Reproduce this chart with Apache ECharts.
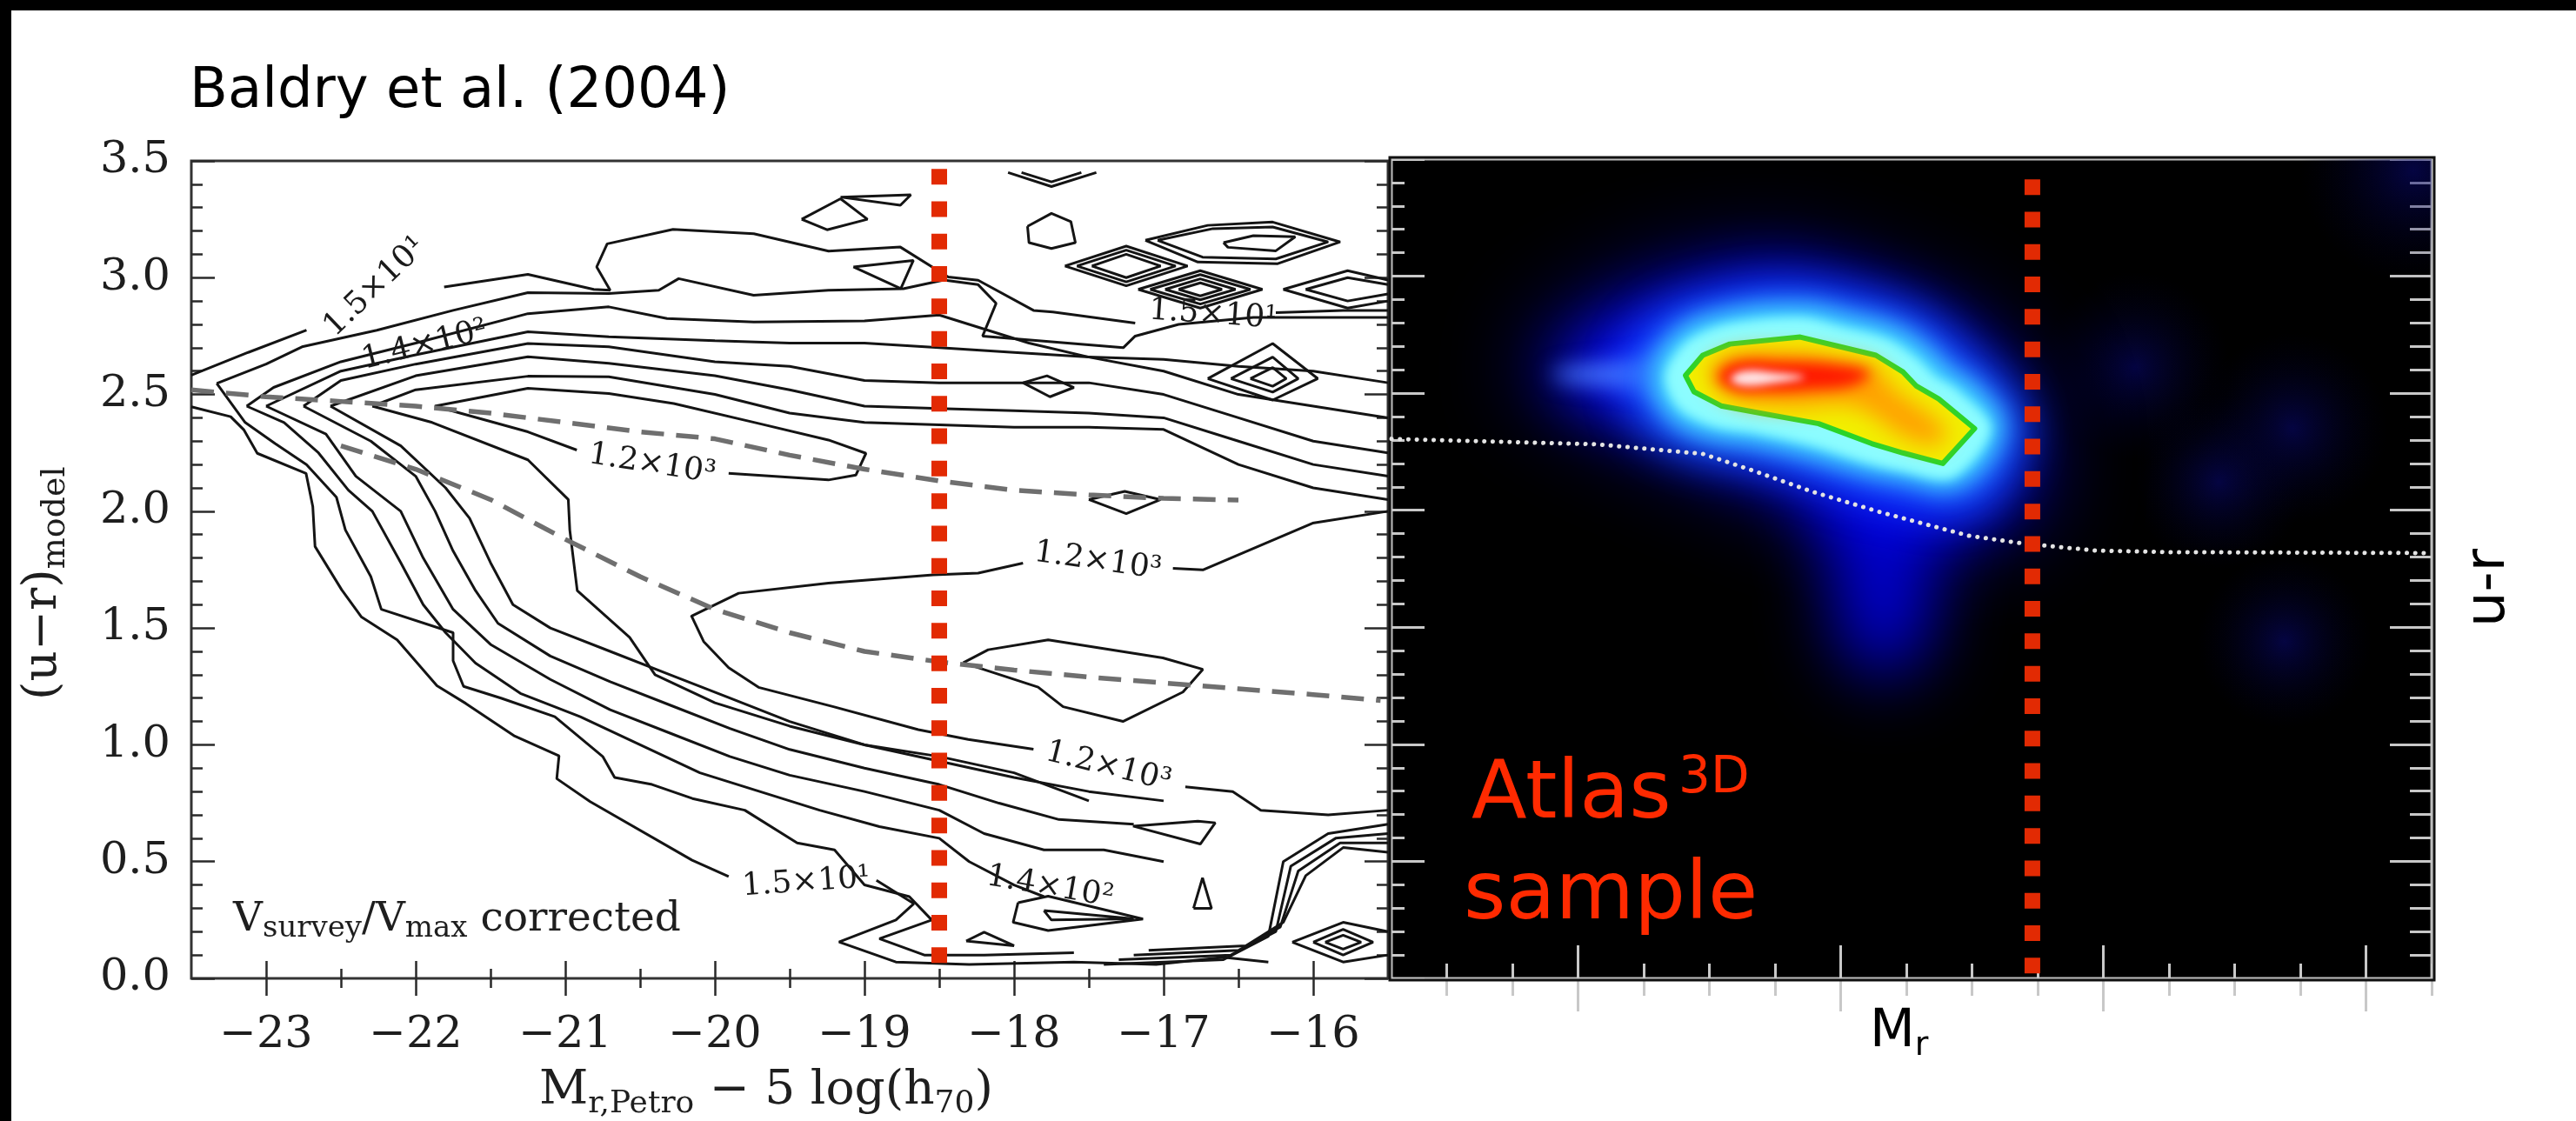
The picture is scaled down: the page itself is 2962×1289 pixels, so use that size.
<!DOCTYPE html>
<html><head><meta charset="utf-8">
<script src="https://cdn.jsdelivr.net/npm/echarts@6.0.0/dist/echarts.min.js"></script>
<style>html,body{margin:0;padding:0;background:#fff;overflow:hidden}#chart{width:2962px;height:1289px}</style>
</head><body><div id="chart"></div>
<script>
// ---------------- tick values ----------------
const leftXMajor = [-23,-22,-21,-20,-19,-18,-17,-16];
const leftXMinor = [-22.5,-21.5,-20.5,-19.5,-18.5,-17.5,-16.5];
const yMajor = [0,0.5,1,1.5,2,2.5,3,3.5];
const yMinor = [0.1,0.2,0.3,0.4,0.6,0.7,0.8,0.9,1.1,1.2,1.3,1.4,1.6,1.7,1.8,1.9,2.1,2.2,2.3,2.4,2.6,2.7,2.8,2.9,3.1,3.2,3.3,3.4];
const rightXMajor = [-24,-23,-22,-21];
const rightXMinor = [-24.5,-24.25,-23.75,-23.5,-23.25,-22.75,-22.5,-22.25,-21.75,-21.5,-21.25,-20.75];

// ---------------- left panel: contours (Mr, u-r) ----------------
const c0 = [
 [[-23.5,2.583],[-23.12,2.68],[-22.73,2.775]],
 [[-21.81,2.96],[-21.25,3.014],[-20.81,2.95],[-20.70,2.946],[-20.79,3.046],[-20.72,3.145],[-20.28,3.207],[-19.74,3.188],[-19.24,3.114],[-18.76,3.131],[-18.44,3.003],[-18.24,2.989],[-17.87,2.86],[-17.74,2.853],[-17.19,2.806]],
 [[-16.25,2.85],[-15.8,2.86],[-15.5,2.86]],
 [[-23.5,2.447],[-23.237,2.405],[-23.148,2.348],[-23.059,2.248],[-22.733,2.162],[-22.688,2.02],[-22.673,1.849],[-22.495,1.664],[-22.362,1.547],[-22.124,1.449],[-21.858,1.253],[-21.665,1.177],[-21.338,1.037],[-21.042,0.953],[-21.057,0.855],[-20.834,0.757],[-20.152,0.506],[-19.908,0.436]],
 [[-18.92,0.42],[-18.67,0.32],[-18.79,0.25],[-19.17,0.156],[-18.79,0.07],[-18.3,0.06],[-17.6,0.07],[-17.05,0.06],[-16.6,0.09],[-16.3,0.07]]
];
const c1 = [
 [[-23.33,2.547],[-23.0,2.63],[-22.76,2.704],[-22.26,2.775],[-21.75,2.86],[-21.25,2.936],[-20.709,2.932],[-20.375,2.946],[-20.242,2.996],[-19.741,2.925],[-19.241,2.946],[-18.74,2.953],[-18.47,2.99],[-18.24,2.97],[-18.12,2.89],[-18.21,2.75],[-17.27,2.70],[-17.19,2.75],[-16.9,2.8],[-16.4,2.83],[-15.5,2.83]],
 [[-23.33,2.547],[-23.14,2.38],[-22.94,2.29],[-22.73,2.2],[-22.53,2.06],[-22.47,1.92],[-22.3,1.72],[-22.23,1.58],[-21.75,1.48],[-21.75,1.36],[-21.68,1.25],[-21.43,1.2],[-21.07,1.12],[-20.75,0.95],[-20.67,0.86],[-20.42,0.83],[-20.15,0.77],[-19.8,0.72],[-19.45,0.58],[-19.2,0.55],[-19.0,0.40],[-18.7,0.35],[-18.55,0.25],[-18.9,0.17],[-18.6,0.1],[-18.2,0.1],[-17.6,0.11]]
];
const c2 = [
 [[-23.13,2.45],[-22.95,2.53],[-22.5,2.64],[-22.0,2.72],[-21.25,2.846],[-20.709,2.875],[-20.32,2.825],[-19.74,2.81],[-19.0,2.815],[-18.5,2.84],[-18.3,2.8],[-17.9,2.72],[-17.5,2.66],[-17.0,2.65],[-16.5,2.62],[-16.0,2.6],[-15.5,2.55]],
 [[-23.13,2.45],[-22.88,2.38],[-22.65,2.25],[-22.45,2.09],[-22.29,2.0],[-22.1,1.78],[-21.95,1.6],[-21.8,1.48],[-21.6,1.35],[-21.3,1.22],[-20.9,1.12],[-20.5,1.0],[-20.1,0.88],[-19.7,0.8],[-19.3,0.72],[-18.9,0.65],[-18.5,0.6],[-18.3,0.5],[-18.0,0.4],[-17.8,0.35]]
];
const c3 = [
 [[-23.0,2.45],[-22.5,2.6],[-22.0,2.67],[-21.25,2.768],[-20.709,2.747],[-20.0,2.73],[-19.5,2.72],[-19.0,2.72],[-18.5,2.7],[-18.0,2.68],[-17.5,2.66],[-17.0,2.6],[-16.5,2.5],[-16.0,2.45],[-15.5,2.4]],
 [[-23.0,2.45],[-22.6,2.33],[-22.4,2.15],[-22.1,2.0],[-21.95,1.8],[-21.75,1.58],[-21.5,1.43],[-21.1,1.28],[-20.7,1.15],[-20.3,1.05],[-19.9,0.95],[-19.5,0.87],[-19.0,0.8],[-18.5,0.72],[-18.2,0.62],[-17.8,0.55],[-17.4,0.55],[-17.0,0.5]]
];
const c4 = [
 [[-22.75,2.45],[-22.5,2.56],[-22.0,2.63],[-21.25,2.718],[-20.709,2.704],[-20.0,2.64],[-19.5,2.62],[-19.0,2.56],[-18.5,2.55],[-18.0,2.55],[-17.5,2.55],[-17.0,2.5],[-16.5,2.4],[-16.0,2.3],[-15.5,2.25]],
 [[-22.75,2.45],[-22.3,2.3],[-22.0,2.15],[-21.87,2.0],[-21.75,1.83],[-21.6,1.66],[-21.45,1.52],[-21.1,1.38],[-20.7,1.27],[-20.3,1.17],[-19.9,1.07],[-19.5,0.98],[-19.0,0.9],[-18.5,0.83],[-18.1,0.75],[-17.7,0.68],[-17.2,0.66]]
];
const c5 = [
 [[-22.57,2.45],[-22.0,2.58],[-21.25,2.661],[-20.709,2.633],[-20.0,2.58],[-19.5,2.52],[-19.0,2.45],[-18.5,2.44],[-18.0,2.43],[-17.5,2.42],[-17.0,2.4],[-16.5,2.3],[-16.0,2.2],[-15.5,2.15]],
 [[-22.57,2.45],[-22.1,2.28],[-21.8,2.1],[-21.64,1.97],[-21.5,1.78],[-21.35,1.6],[-21.1,1.5],[-20.7,1.4],[-20.3,1.3],[-19.9,1.2],[-19.5,1.1],[-19.0,1.0],[-18.5,0.93],[-18.0,0.86],[-17.5,0.8],[-17.0,0.76]]
];
const c6 = [
 [[-22.29,2.45],[-22.0,2.52],[-21.25,2.578],[-20.709,2.576],[-20.0,2.5],[-19.5,2.42],[-19.0,2.38],[-18.5,2.37],[-18.0,2.36],[-17.5,2.36],[-17.0,2.35],[-16.5,2.2],[-16.0,2.1],[-15.5,2.05]],
 [[-22.29,2.45],[-21.89,2.38],[-21.25,2.22],[-20.98,2.05],[-20.97,1.92],[-20.92,1.66],[-20.57,1.46],[-20.4,1.3],[-20.0,1.18],[-19.5,1.08],[-19.0,1.0],[-18.5,0.95],[-18.0,0.88],[-17.5,0.76]]
];
const c7 = [
 [[-19.908,2.162],[-19.241,2.134],[-19.057,2.155],[-18.99,2.248],[-19.241,2.305],[-19.708,2.376],[-20.275,2.461],[-20.709,2.504],[-21.25,2.526],[-21.872,2.45],[-21.25,2.34],[-20.923,2.262]],
 [[-20.158,1.55],[-19.841,1.649],[-19.241,1.692],[-18.54,1.728],[-18.24,1.735],[-17.94,1.778]],
 [[-16.938,1.756],[-16.738,1.749],[-16.004,1.949],[-15.5,2.0]],
 [[-20.158,1.554],[-20.075,1.442],[-19.908,1.33],[-19.708,1.246],[-19.207,1.163],[-18.64,1.065],[-18.306,1.023],[-17.87,0.981]],
 [[-16.855,0.82],[-16.538,0.80],[-16.35,0.72],[-15.9,0.7],[-15.5,0.72]]
];
const c8 = [
 [[-18.34,1.351],[-18.173,1.407],[-17.772,1.449],[-17.005,1.372],[-16.738,1.323],[-16.871,1.226],[-17.272,1.1],[-17.672,1.163],[-17.839,1.247],[-18.34,1.351]]
];
const loops = [
 [[-17.66,3.05],[-17.25,3.135],[-16.84,3.05],[-17.25,2.965],[-17.66,3.05]],
 [[-17.58,3.05],[-17.25,3.118],[-16.92,3.05],[-17.25,2.982],[-17.58,3.05]],
 [[-17.48,3.05],[-17.25,3.1],[-17.02,3.05],[-17.25,3.0],[-17.48,3.05]],
 [[-17.17,2.95],[-16.755,3.03],[-16.34,2.95],[-16.755,2.87],[-17.17,2.95]],
 [[-17.09,2.95],[-16.755,3.013],[-16.42,2.95],[-16.755,2.887],[-17.09,2.95]],
 [[-16.99,2.95],[-16.755,2.995],[-16.52,2.95],[-16.755,2.905],[-16.99,2.95]],
 [[-16.9,2.95],[-16.755,2.978],[-16.61,2.95],[-16.755,2.922],[-16.9,2.95]],
 [[-17.122,3.16],[-16.705,3.224],[-16.271,3.238],[-15.82,3.153],[-16.237,3.06],[-16.771,3.067],[-17.122,3.16]],
 [[-17.04,3.16],[-16.67,3.21],[-16.271,3.217],[-15.9,3.153],[-16.25,3.08],[-16.74,3.088],[-17.04,3.16]],
 [[-16.6,3.15],[-16.4,3.18],[-16.12,3.175],[-16.25,3.115],[-16.57,3.13],[-16.6,3.15]],
 [[-16.2,2.95],[-15.77,3.03],[-15.5,2.99]],
 [[-16.2,2.95],[-15.77,2.87],[-15.5,2.9]],
 [[-16.05,2.95],[-15.77,3.0],[-15.5,2.97]],
 [[-16.05,2.95],[-15.77,2.9],[-15.5,2.93]],
 [[-17.91,3.22],[-17.75,3.275],[-17.62,3.24],[-17.59,3.15],[-17.75,3.125],[-17.9,3.15],[-17.91,3.22]],
 [[-19.42,3.25],[-19.16,3.338],[-18.98,3.25],[-19.25,3.205],[-19.42,3.25]],
 [[-19.16,3.345],[-18.69,3.355],[-18.76,3.31],[-19.16,3.345]],
 [[-18.04,3.45],[-17.75,3.39],[-17.45,3.45]],
 [[-17.95,3.45],[-17.75,3.41],[-17.55,3.45]],
 [[-19.074,3.046],[-18.673,3.074],[-18.757,2.953],[-19.074,3.046]],
 [[-17.94,2.55],[-17.78,2.58],[-17.6,2.53],[-17.76,2.49],[-17.94,2.55]],
 [[-17.5,2.05],[-17.26,2.085],[-17.02,2.05],[-17.25,1.99],[-17.5,2.05]],
 [[-16.705,2.568],[-16.271,2.718],[-15.97,2.568],[-16.271,2.476],[-16.705,2.568]],
 [[-16.55,2.568],[-16.271,2.66],[-16.1,2.568],[-16.271,2.51],[-16.55,2.568]],
 [[-16.42,2.568],[-16.271,2.615],[-16.18,2.568],[-16.271,2.535],[-16.42,2.568]],
 [[-17.205,0.652],[-16.771,0.673],[-16.655,0.666],[-16.755,0.575],[-17.205,0.652]],
 [[-16.8,0.3],[-16.74,0.43],[-16.68,0.3],[-16.8,0.3]],
 [[-18.32,0.16],[-18.2,0.198],[-18.0,0.14],[-18.32,0.16]],
 [[-17.973,0.324],[-17.772,0.352],[-17.138,0.254],[-17.772,0.205],[-18.006,0.24],[-17.973,0.324]],
 [[-17.8,0.29],[-17.2,0.255],[-17.75,0.25],[-17.8,0.29]],
 [[-16.14,0.155],[-15.8,0.24],[-15.5,0.2]],
 [[-16.14,0.155],[-15.8,0.07],[-15.5,0.1]],
 [[-16.0,0.155],[-15.8,0.21],[-15.6,0.155],[-15.8,0.1],[-16.0,0.155]],
 [[-15.92,0.155],[-15.8,0.185],[-15.68,0.155],[-15.8,0.125],[-15.92,0.155]],
 [[-17.4,0.06],[-16.6,0.08],[-16.3,0.18],[-16.2,0.5],[-15.9,0.62],[-15.5,0.66]],
 [[-17.3,0.08],[-16.55,0.1],[-16.25,0.2],[-16.15,0.48],[-15.85,0.6],[-15.5,0.62]],
 [[-17.2,0.1],[-16.5,0.12],[-16.22,0.22],[-16.1,0.46],[-15.82,0.58],[-15.5,0.58]],
 [[-17.1,0.12],[-16.45,0.14],[-16.2,0.24],[-16.05,0.44],[-15.8,0.56],[-15.5,0.54]]
];

// dashed grey ridge lines
const ridgeRed = [[-23.5,2.52],[-23.0,2.49],[-22.5,2.47],[-22.0,2.45],[-21.5,2.42],[-21.0,2.38],[-20.5,2.34],[-20.0,2.31],[-19.5,2.24],[-19.0,2.18],[-18.5,2.13],[-18.0,2.09],[-17.5,2.07],[-17.0,2.055],[-16.5,2.048]];
const ridgeBlue = [[-22.5,2.28],[-22.0,2.18],[-21.5,2.05],[-21.0,1.88],[-20.5,1.72],[-20.0,1.58],[-19.5,1.48],[-19.0,1.4],[-18.5,1.355],[-18.0,1.32],[-17.5,1.29],[-17.0,1.265],[-16.5,1.24],[-16.0,1.215],[-15.55,1.19]];

// contour labels: [Mr, u-r, text, rotation]
const contourLabels = [
 [-22.27,2.96,'1.5×10¹',44],
 [-21.94,2.71,'1.4×10²',14],
 [-20.42,2.20,'1.2×10³',-9],
 [-17.44,1.785,'1.2×10³',-8],
 [-17.37,0.905,'1.2×10³',-14],
 [-19.39,0.41,'1.5×10¹',4],
 [-17.76,0.39,'1.4×10²',-10],
 [-16.67,2.84,'1.5×10¹',-4]
];

// magnitude cut (red dashed)
const cutLeft = [[-18.5,3.466],[-18.5,0.06]];
const cutRight = [[-22.27,3.414],[-22.27,0.015]];

// ---------------- right panel: Atlas3D density (Mr, u-r) ----------------
const densHaze = [[-24.2,2.58],[-23.95,2.9],[-23.3,3.1],[-22.9,3.0],[-22.5,2.8],[-22.25,2.45],[-22.25,2.0],[-22.5,1.85],[-23.0,1.95],[-23.6,2.2],[-24.0,2.4]];
const densPlume = [[-23.1,2.15],[-22.62,2.15],[-22.64,1.8],[-22.72,1.35],[-22.95,1.35],[-23.04,1.8]];
const densBlue = [[-24.048,2.576],[-23.882,2.774],[-23.617,2.904],[-23.286,2.997],[-23.054,2.96],[-22.756,2.848],[-22.525,2.662],[-22.392,2.439],[-22.38,2.15],[-22.5,1.98],[-22.8,1.98],[-23.121,2.122],[-23.452,2.252],[-23.783,2.401],[-23.982,2.494]];
const densTongue = [[-24.1,2.58],[-23.85,2.63],[-23.6,2.64],[-23.6,2.52],[-23.85,2.53]];
const densSky = [[-23.8,2.58],[-23.7,2.8],[-23.48,2.9],[-23.15,2.94],[-22.94,2.9],[-22.72,2.83],[-22.58,2.72],[-22.5,2.63],[-22.41,2.56],[-22.3,2.35],[-22.48,2.03],[-22.8,2.06],[-22.95,2.1],[-23.16,2.17],[-23.37,2.22],[-23.56,2.25],[-23.74,2.36]];
const densLight = [[-23.72,2.58],[-23.63,2.76],[-23.45,2.85],[-23.15,2.88],[-22.97,2.84],[-22.78,2.78],[-22.65,2.68],[-22.58,2.6],[-22.49,2.54],[-22.38,2.35],[-22.55,2.1],[-22.78,2.13],[-22.92,2.16],[-23.14,2.23],[-23.34,2.28],[-23.51,2.31],[-23.66,2.4]];
const densCyan = [[-23.667,2.576],[-23.584,2.718],[-23.435,2.792],[-23.154,2.822],[-22.995,2.781],[-22.823,2.729],[-22.707,2.643],[-22.64,2.569],[-22.558,2.513],[-22.43,2.349],[-22.574,2.14],[-22.773,2.17],[-22.905,2.205],[-23.121,2.28],[-23.319,2.33],[-23.485,2.36],[-23.617,2.439]];
const densGreen = [[-23.591,2.576],[-23.525,2.662],[-23.422,2.71],[-23.154,2.74],[-23.018,2.703],[-22.866,2.662],[-22.763,2.591],[-22.713,2.532],[-22.627,2.476],[-22.49,2.349],[-22.611,2.2],[-22.763,2.245],[-22.882,2.285],[-23.084,2.37],[-23.306,2.415],[-23.455,2.446],[-23.558,2.506]];
const densOrange = [[-23.5,2.59],[-23.44,2.66],[-23.19,2.68],[-22.99,2.65],[-22.86,2.61],[-22.8,2.52],[-22.7,2.44],[-22.6,2.34],[-22.63,2.28],[-22.75,2.31],[-22.9,2.42],[-22.99,2.45],[-23.19,2.44],[-23.42,2.48]];
const densRed = [[-23.468,2.569],[-23.402,2.632],[-23.22,2.636],[-23.021,2.625],[-22.889,2.588],[-22.955,2.532],[-23.121,2.513],[-23.286,2.506],[-23.402,2.513]];
const densPeak = [[-23.419,2.561],[-23.369,2.595],[-23.253,2.588],[-23.137,2.569],[-23.253,2.543],[-23.369,2.532]];
// faint blobs: [Mr, u-r, radius px]
const faintBlobs = [[-21.88,2.61,110],[-21.28,2.35,110],[-21.56,2.12,100],[-21.31,1.44,100],[-20.82,3.45,130]];
// red-sequence / blue-cloud divider (dotted)
const divider = [[-24.71,2.305],[-23.929,2.282],[-23.525,2.241],[-23.356,2.178],[-23.101,2.077],[-22.849,1.992],[-22.511,1.891],[-22.306,1.858],[-22.031,1.828],[-21.756,1.821],[-20.75,1.817]];

// ---------------- build ----------------
const SERIF = 'DejaVu Serif';
const SANS = 'DejaVu Sans';
function tickAxis(grid, pos, min, max, vals, len, color, w, label) {
  return {type:'value', gridIndex:grid, position:pos, min:min, max:max,
    axisLine:{show:false}, splitLine:{show:false}, minorTick:{show:false},
    axisTick:{show:true, inside:true, length:len, customValues:vals, lineStyle:{color:color, width:w}},
    axisLabel: label || {show:false}};
}
const minusFmt = v => (v < 0 ? '\u2212' : '') + Math.abs(v);
const LC = '#2a2a2a', RC = '#c8c8c8';
const xAxes = [
  tickAxis(0,'bottom',-23.5,-15.5,leftXMinor,11,LC,2.5,{show:true,customValues:leftXMajor,formatter:minusFmt,fontFamily:SERIF,fontSize:51,color:'#1e1e1e',margin:40}),
  tickAxis(0,'bottom',-23.5,-15.5,leftXMajor,20,LC,2.5),
  tickAxis(0,'top',-23.5,-15.5,leftXMinor,11,LC,2.5),
  tickAxis(0,'top',-23.5,-15.5,leftXMajor,20,LC,2.5),
  tickAxis(1,'bottom',-24.71,-20.75,rightXMinor,17,RC,3),
  tickAxis(1,'bottom',-24.71,-20.75,rightXMajor,38,RC,3),
  tickAxis(1,'top',-24.71,-20.75,rightXMinor,20,RC,3),
  tickAxis(1,'top',-24.71,-20.75,rightXMajor,38,RC,3)
];
const yAxes = [
  tickAxis(0,'left',0,3.5,yMinor,13,LC,2.5,{show:true,customValues:yMajor,formatter:v=>v.toFixed(1),fontFamily:SERIF,fontSize:51,color:'#1e1e1e',margin:24}),
  tickAxis(0,'left',0,3.5,yMajor,27,LC,2.5),
  tickAxis(0,'right',0,3.5,yMinor,13,LC,2.5),
  tickAxis(0,'right',0,3.5,yMajor,27,LC,2.5),
  tickAxis(1,'left',0,3.5,yMinor,15,RC,3),
  tickAxis(1,'left',0,3.5,yMajor,38,RC,3),
  tickAxis(1,'right',0,3.5,yMinor,25,RC,3),
  tickAxis(1,'right',0,3.5,yMajor,48,RC,3)
];

const series = [];
function addLines(segs, style, z) {
  segs.forEach(seg => series.push({type:'line', xAxisIndex:0, yAxisIndex:0, data:seg, symbol:'none', showSymbol:false,
    lineStyle:style, silent:true, animation:false, clip:true, z:z||3}));
}
const contourStyle = {color:'#141414', width:3};
[c0,c1,c2,c3,c4,c5,c6,c7,c8,loops].forEach(c => addLines(c, contourStyle, 3));
addLines([ridgeRed, ridgeBlue], {color:'#6f6f6f', width:5.5, type:[26,14]}, 4);
series.push({type:'line', xAxisIndex:0, yAxisIndex:0, data:cutLeft, symbol:'none', silent:true, animation:false, z:6,
  lineStyle:{color:'#e22a03', width:18, type:[18,19.3], cap:'butt'}});
series.push({type:'scatter', xAxisIndex:0, yAxisIndex:0, symbol:'circle', symbolSize:2, itemStyle:{color:'rgba(0,0,0,0)'}, silent:true, animation:false, z:5,
  data: contourLabels.map(d => ({value:[d[0],d[1]], label:{show:true, position:'inside', formatter:d[2], rotate:d[3],
    fontFamily:SERIF, fontSize:36, color:'#1a1a1a', opacity:1}}))});

// right panel density layers (blurred: shape drawn off-canvas, only its blurred shadow lands in place)
const OFF = 4000;
const layers = [
  {pts:densHaze, color:'#000078', blur:100, smooth:0.5},
  {pts:densPlume, color:'#0000d0', blur:80, smooth:0.5},
  {pts:densBlue, color:'#0a10ff', blur:70, smooth:0.5},
  {pts:densTongue, color:'#4a7cff', blur:24, smooth:0.5},
  {pts:densSky, color:'#1a5cff', blur:50, smooth:0.4},
  {pts:densLight, color:'#46dcff', blur:28, smooth:0.4},
  {pts:densCyan, color:'#8cfcff', blur:12, smooth:0.3},
  {pts:densGreen, color:'#f2f000', sharp:true, stroke:'#2ad42a', lw:6},
  {pts:densOrange, color:'#ffa000', blur:26, smooth:0.4},
  {pts:densRed, color:'#ff1a00', blur:16, smooth:0.4},
  {pts:densPeak, color:'#ffe4e4', blur:10, smooth:0.4}
];
series.push({type:'custom', xAxisIndex:4, yAxisIndex:4, clip:true, silent:true, animation:false, z:2,
  data: faintBlobs, encode:{x:0,y:1},
  renderItem:(params, api) => {
    const p = api.coord([api.value(0), api.value(1)]);
    const r = api.value(2);
    return {type:'circle', shape:{cx:p[0], cy:p[1], r:r},
      style:{fill:new echarts.graphic.RadialGradient(0.5,0.5,0.5,[{offset:0,color:'rgba(8,8,120,0.55)'},{offset:1,color:'rgba(0,0,40,0)'}])}};
  }});
series.push({type:'custom', xAxisIndex:4, yAxisIndex:4, clip:true, silent:true, animation:false, z:3,
  data: layers.map(l => [l.pts[0][0], l.pts[0][1]]), encode:{x:0,y:1},
  renderItem:(params, api) => {
    const l = layers[params.dataIndex];
    if (l.sharp) {
      const pts = l.pts.map(p => api.coord(p));
      return {type:'polygon', shape:{points:pts}, style:{fill:l.color, stroke:l.stroke, lineWidth:l.lw, lineJoin:'round'}};
    }
    const pts = l.pts.map(p => { const c = api.coord(p); return [c[0] + OFF, c[1]]; });
    return {type:'polygon', shape:{points:pts, smooth:l.smooth},
      style:{fill:l.color, shadowBlur:l.blur, shadowColor:l.color, shadowOffsetX:-OFF, shadowOffsetY:0}};
  }});
series.push({type:'line', xAxisIndex:4, yAxisIndex:4, data:divider, symbol:'none', silent:true, animation:false, z:5,
  lineStyle:{color:'#e4e4e4', width:5, type:[0.1,9.6], cap:'round'}});
series.push({type:'line', xAxisIndex:4, yAxisIndex:4, data:cutRight, symbol:'none', silent:true, animation:false, z:6,
  lineStyle:{color:'#e22a03', width:18, type:[18,19.3], cap:'butt'}});

const graphic = [
  {type:'rect', shape:{x:0,y:0,width:2962,height:12}, style:{fill:'#000'}, z:10},
  {type:'rect', shape:{x:0,y:0,width:13,height:1289}, style:{fill:'#000'}, z:10},
  {type:'rect', shape:{x:1598,y:181,width:1201,height:946}, style:{fill:null, stroke:'#111', lineWidth:3}, z:1},
  {type:'text', x:218, y:106, style:{text:'Baldry et al. (2004)', fontFamily:SANS, fontSize:64, fill:'#000', verticalAlign:'middle'}},
  {type:'text', x:620, y:1255, style:{text:'{a|M}{s|r,Petro}{a| \u2212 5 log(h}{s|70}{a|)}', align:'left', verticalAlign:'middle',
    rich:{a:{fontFamily:SERIF, fontSize:55, lineHeight:66, fill:'#1e1e1e'}, s:{fontFamily:SERIF, fontSize:36, lineHeight:30, verticalAlign:'bottom', fill:'#1e1e1e'}}}},
  {type:'text', x:50, y:805, rotation:Math.PI/2, style:{text:'{a|(u\u2212r)}{s|model}', align:'left', verticalAlign:'middle',
    rich:{a:{fontFamily:SERIF, fontSize:55, lineHeight:66, fill:'#1e1e1e'}, s:{fontFamily:SERIF, fontSize:38, lineHeight:32, verticalAlign:'bottom', fill:'#1e1e1e'}}}},
  {type:'text', x:268, y:1058, style:{text:'{a|V}{s|survey}{a|/V}{s|max}{a| corrected}', verticalAlign:'middle',
    rich:{a:{fontFamily:SERIF, fontSize:47, lineHeight:54, fill:'#1e1e1e'}, s:{fontFamily:SERIF, fontSize:34, lineHeight:27, verticalAlign:'bottom', fill:'#1e1e1e'}}}, z:8},
  {type:'text', x:1692, y:916, style:{text:'Atlas', fontFamily:SANS, fontSize:93, fill:'#ff2a00', verticalAlign:'middle'}, z:8},
  {type:'text', x:1930, y:896, style:{text:'3D', fontFamily:SANS, fontSize:58, fill:'#ff2a00', verticalAlign:'middle'}, z:8},
  {type:'text', x:1683, y:1032, style:{text:'sample', fontFamily:SANS, fontSize:93, fill:'#ff2a00', verticalAlign:'middle'}, z:8},
  {type:'text', x:2150, y:1187, style:{text:'{a|M}{s|r}', verticalAlign:'middle',
    rich:{a:{fontFamily:SANS, fontSize:60, lineHeight:70, fill:'#000'}, s:{fontFamily:SANS, fontSize:38, lineHeight:36, verticalAlign:'bottom', fill:'#000'}}}},
  {type:'text', x:2862, y:676, rotation:Math.PI/2, style:{text:'u-r', fontFamily:SANS, fontSize:64, fill:'#000', align:'center', verticalAlign:'middle'}}
];

const option = {
  animation:false,
  backgroundColor:'#ffffff',
  grid:[
    {left:220, top:185, width:1376, height:940, show:true, backgroundColor:'#fff', borderColor:'#333', borderWidth:3, outerBoundsMode:'none'},
    {left:1600, top:183, width:1196, height:942, show:true, backgroundColor:'#000', borderColor:'#bdbdbd', borderWidth:3, outerBoundsMode:'none'}
  ],
  xAxis:xAxes, yAxis:yAxes, series:series, graphic:graphic
};
const chart = echarts.init(document.getElementById('chart'), null, {renderer:'canvas', width:2962, height:1289});
chart.setOption(option);
</script></body></html>
